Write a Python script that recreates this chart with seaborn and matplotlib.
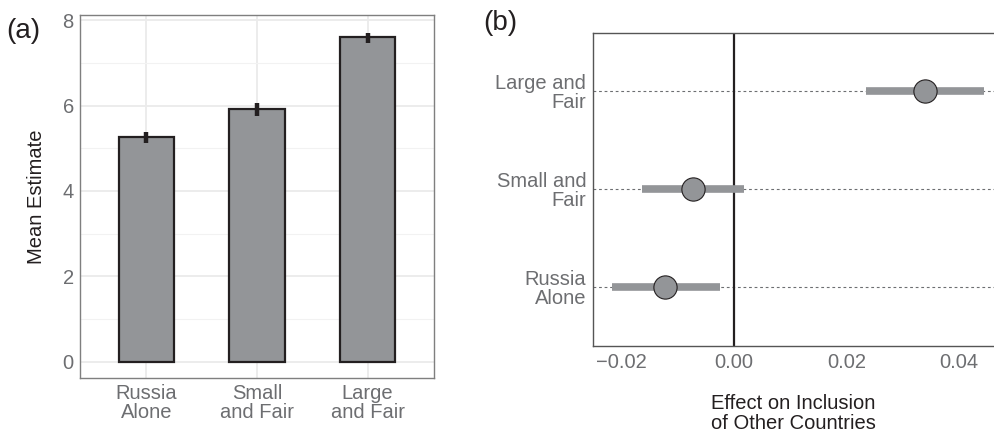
import numpy as np
import pandas as pd
import seaborn as sns
import matplotlib.pyplot as plt
from matplotlib.ticker import MultipleLocator

# ── data ─────────────────────────────────────────────
groups = ['Russia\nAlone', 'Small\nand Fair', 'Large\nand Fair']
mean_est = [5.27, 5.93, 7.61]
err_lo = [5.12, 5.76, 7.47]
err_hi = [5.39, 6.07, 7.71]

effect_labels = ['Russia\nAlone', 'Small and\nFair', 'Large and\nFair']
effect = [-0.0121, -0.0072, 0.0339]
ci_lo = [-0.0216, -0.0163, 0.0235]
ci_hi = [-0.0025, 0.0018, 0.0445]

bar_grey = '#939598'
text_grey = '#6d6e71'

sns.set_style('white')
plt.rcParams['font.family'] = ['Liberation Sans', 'DejaVu Sans']

fig = plt.figure(figsize=(9.94, 4.36), dpi=100)
fig.patch.set_facecolor('white')

# ── panel (a) ────────────────────────────────────────
ax1 = fig.add_axes([0.0805, 0.133, 0.3561, 0.8326])
df_a = pd.DataFrame({'group': groups, 'mean': mean_est})
sns.barplot(data=df_a, x='group', y='mean', order=groups, color=bar_grey,
            saturation=1, width=0.5, edgecolor='#231f20', linewidth=1.6,
            errorbar=None, ax=ax1, zorder=3)
ax1.vlines(range(len(groups)), err_lo, err_hi, color='#231f20', lw=3.2, zorder=4)
ax1.set_xlim(-0.6, 2.6)
ax1.set_ylim(-0.38, 8.12)
ax1.yaxis.set_major_locator(MultipleLocator(2))
ax1.yaxis.set_minor_locator(MultipleLocator(1))
ax1.grid(True, which='major', color='#ebebeb', lw=1.3, zorder=0)
ax1.grid(True, which='minor', axis='y', color='#f2f2f2', lw=0.8, zorder=0)
ax1.set_axisbelow(True)
for s in ax1.spines.values():
    s.set_color('#7f7f7f')
    s.set_linewidth(1.0)
ax1.tick_params(axis='both', which='major', length=3, color='#7f7f7f',
                labelcolor=text_grey, labelsize=14.5, direction='out', pad=1.5)
ax1.tick_params(axis='y', which='minor', length=0)
for t in ax1.get_xticklabels():
    t.set_linespacing(1.0)
ax1.set_xlabel('')
ax1.set_ylabel('Mean Estimate', fontsize=14.5, color='#231f20', labelpad=12)
fig.text(0.006, 0.93, '(a)', fontsize=20, color='#231f20', va='center')

# ── panel (b) ────────────────────────────────────────
ax2 = fig.add_axes([0.5969, 0.2064, 0.4031, 0.7186])
pos = np.arange(len(effect_labels))
ax2.set_xlim(-0.0249, 0.0462)
ax2.set_ylim(-0.6, 2.6)
for p in pos:
    ax2.axhline(p, color='#6d6e71', lw=0.8, ls=(0, (2.5, 2.5)), zorder=1)
ax2.axvline(0, color='#231f20', lw=1.6, zorder=2)
ax2.hlines(pos, ci_lo, ci_hi, color=bar_grey, lw=5.5, zorder=3)
df_b = pd.DataFrame({'effect': effect, 'pos': pos})
sns.scatterplot(data=df_b, x='effect', y='pos', s=280, color=bar_grey,
                edgecolor='#231f20', linewidth=0.8, ax=ax2, zorder=4)
ax2.set_yticks(pos)
ax2.set_yticklabels(effect_labels, ha='right', linespacing=1.0)
ax2.set_xticks([-0.02, 0.0, 0.02, 0.04])
ax2.set_xticklabels(['\u22120.02', '0.00', '0.02', '0.04'])
ax2.spines['right'].set_visible(False)
for s in ['left', 'top', 'bottom']:
    ax2.spines[s].set_color('#555555')
    ax2.spines[s].set_linewidth(1.0)
ax2.tick_params(axis='both', length=3, color='#555555', labelcolor=text_grey,
                labelsize=14.5, direction='out', pad=2)
ax2.set_ylabel('')
ax2.set_xlabel('Effect on Inclusion\nof Other Countries', fontsize=14.5,
               color='#231f20', labelpad=16, linespacing=1.05)
fig.text(0.486, 0.947, '(b)', fontsize=20, color='#231f20', va='center')

fig.savefig('out.png', dpi=100, facecolor='white')
